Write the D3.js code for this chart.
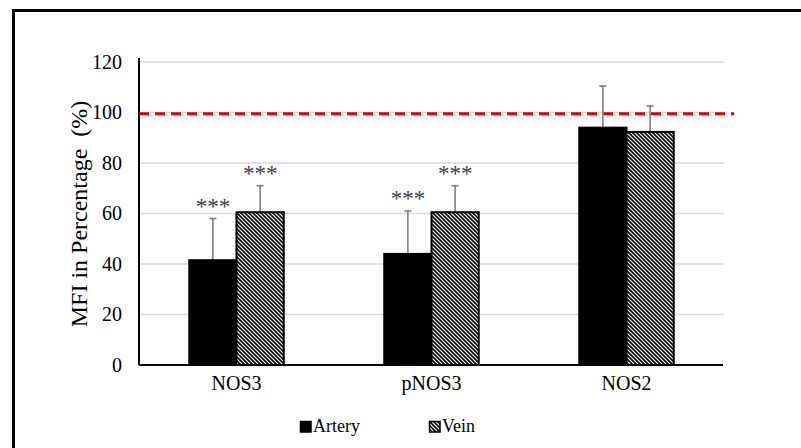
<!DOCTYPE html>
<html><head><meta charset="utf-8">
<script src="https://cdn.jsdelivr.net/npm/d3@7"></script>
<style>body{margin:0;background:#fff}svg{display:block}svg text{font-family:"Liberation Serif","Times New Roman",Times,"DejaVu Serif",serif}</style>
</head><body>
<script>
const categories = ["NOS3", "pNOS3", "NOS2"];
const seriesNames = ["Artery", "Vein"];
const arteryValues = [41.5, 44, 94];
const arteryErrors = [16.5, 17, 16.5];
const veinValues = [60.5, 60.5, 92.3];
const veinErrors = [10.5, 10.5, 10.3];
const arteryStars = ["***", "***", ""];
const veinStars = ["***", "***", ""];
const yTicks = [0, 20, 40, 60, 80, 100, 120];
const referenceLine = 99.5;

const W = 801, H = 448;
const svg = d3.select("body").append("svg").attr("width", W).attr("height", H);
const defs = svg.append("defs");
const pat = defs.append("pattern").attr("id", "hatch").attr("patternUnits", "userSpaceOnUse")
  .attr("width", 4).attr("height", 4);
pat.append("rect").attr("width", 4).attr("height", 4).attr("fill", "#fff");
pat.append("path").attr("d", "M-1,-1L5,5M-1,3L1,5M3,-1L5,1").attr("stroke", "#000").attr("stroke-width", 1.6);

svg.append("rect").attr("x", 13.5).attr("y", 10.5).attr("width", 820).attr("height", 460)
  .attr("fill", "none").attr("stroke", "#000").attr("stroke-width", 3);

const font = '"Liberation Serif","Times New Roman",Times,serif';
const y = d3.scaleLinear().domain([0, 120]).range([365, 62]);
const x = d3.scaleBand().domain(categories).range([139, 724]).padding(0);
const gw = 94.5;
const x1 = d3.scaleBand().domain(seriesNames)
  .range([(x.bandwidth() - gw) / 2, (x.bandwidth() + gw) / 2]).padding(0);

svg.append("g").selectAll("line").data(yTicks.filter(d => d > 0)).join("line")
  .attr("x1", 139).attr("x2", 724).attr("y1", d => y(d)).attr("y2", d => y(d))
  .attr("stroke", "#d9d9d9").attr("stroke-width", 1.5);

const yAxis = svg.append("g").attr("transform", "translate(139,0)")
  .call(d3.axisLeft(y).tickValues(yTicks).tickSize(0).tickPadding(17));
yAxis.attr("font-family", null).attr("font-size", null);
yAxis.select(".domain").attr("stroke", "#000").attr("stroke-width", 2)
  .attr("d", `M0,${y(0)}V${y(0) - 307}`);
yAxis.selectAll("text").style("font-family", font).style("font-size", "20px").attr("fill", "#000");

svg.append("line").attr("x1", 139).attr("x2", 734)
  .attr("y1", y(referenceLine)).attr("y2", y(referenceLine))
  .attr("stroke", "#e00000").attr("stroke-width", 3).attr("stroke-dasharray", "10,6");

const rows = categories.map((c, i) => [
  { cat: c, s: "Artery", v: arteryValues[i], e: arteryErrors[i], st: arteryStars[i] },
  { cat: c, s: "Vein", v: veinValues[i], e: veinErrors[i], st: veinStars[i] }
]).flat();

const g = svg.append("g");
const eb = g.selectAll("g.err").data(rows).join("g").attr("class", "err");
eb.append("line")
  .attr("x1", d => x(d.cat) + x1(d.s) + x1.bandwidth() / 2)
  .attr("x2", d => x(d.cat) + x1(d.s) + x1.bandwidth() / 2)
  .attr("y1", d => y(d.v)).attr("y2", d => y(d.v + d.e))
  .attr("stroke", "#7f7f7f").attr("stroke-width", 1.6);
eb.append("line")
  .attr("x1", d => x(d.cat) + x1(d.s) + x1.bandwidth() / 2 - 3.5)
  .attr("x2", d => x(d.cat) + x1(d.s) + x1.bandwidth() / 2 + 3.5)
  .attr("y1", d => y(d.v + d.e)).attr("y2", d => y(d.v + d.e))
  .attr("stroke", "#7f7f7f").attr("stroke-width", 1.6);

g.selectAll("rect.bar").data(rows).join("rect").attr("class", "bar")
  .attr("x", d => x(d.cat) + x1(d.s)).attr("width", x1.bandwidth())
  .attr("y", d => y(d.v)).attr("height", d => y(0) - y(d.v))
  .attr("fill", d => d.s === "Artery" ? "#000" : "url(#hatch)")
  .attr("stroke", "#000").attr("stroke-width", 2);

g.selectAll("text.star").data(rows.filter(d => d.st)).join("text").attr("class", "star")
  .attr("x", d => x(d.cat) + x1(d.s) + x1.bandwidth() / 2)
  .attr("y", d => y(d.v + d.e) - 5)
  .attr("text-anchor", "middle").style("font-family", font).style("font-size", "23px")
  .attr("fill", "#404040").text(d => d.st);

svg.append("line").attr("x1", 139).attr("x2", 723).attr("y1", y(0)).attr("y2", y(0))
  .attr("stroke", "#000").attr("stroke-width", 2);
const xAxis = svg.append("g").attr("transform", `translate(0,${y(0)})`)
  .call(d3.axisBottom(x).tickSize(0).tickPadding(11));
xAxis.attr("font-family", null).attr("font-size", null);
xAxis.select(".domain").remove();
xAxis.selectAll("text").style("font-family", font).style("font-size", "20px").attr("fill", "#000");

svg.append("text").attr("transform", "translate(87,214) rotate(-90)")
  .attr("text-anchor", "middle").style("font-family", font).style("font-size", "24px")
  .style("white-space", "pre").attr("fill", "#000").text("MFI in Percentage  (%)");

const legX = [300, 429];
const leg = svg.append("g").selectAll("g").data(seriesNames).join("g")
  .attr("transform", (d, i) => `translate(${legX[i]},421)`);
leg.append("rect").attr("x", 0.5).attr("y", 0.5).attr("width", 10.5).attr("height", 10.5)
  .attr("fill", d => d === "Artery" ? "#000" : "url(#hatch)").attr("stroke", "#000").attr("stroke-width", 1.5);
leg.append("text").attr("x", 13).attr("y", 11).style("font-family", font).style("font-size", "18px")
  .attr("fill", "#000").text(d => d);
</script>
</body></html>
